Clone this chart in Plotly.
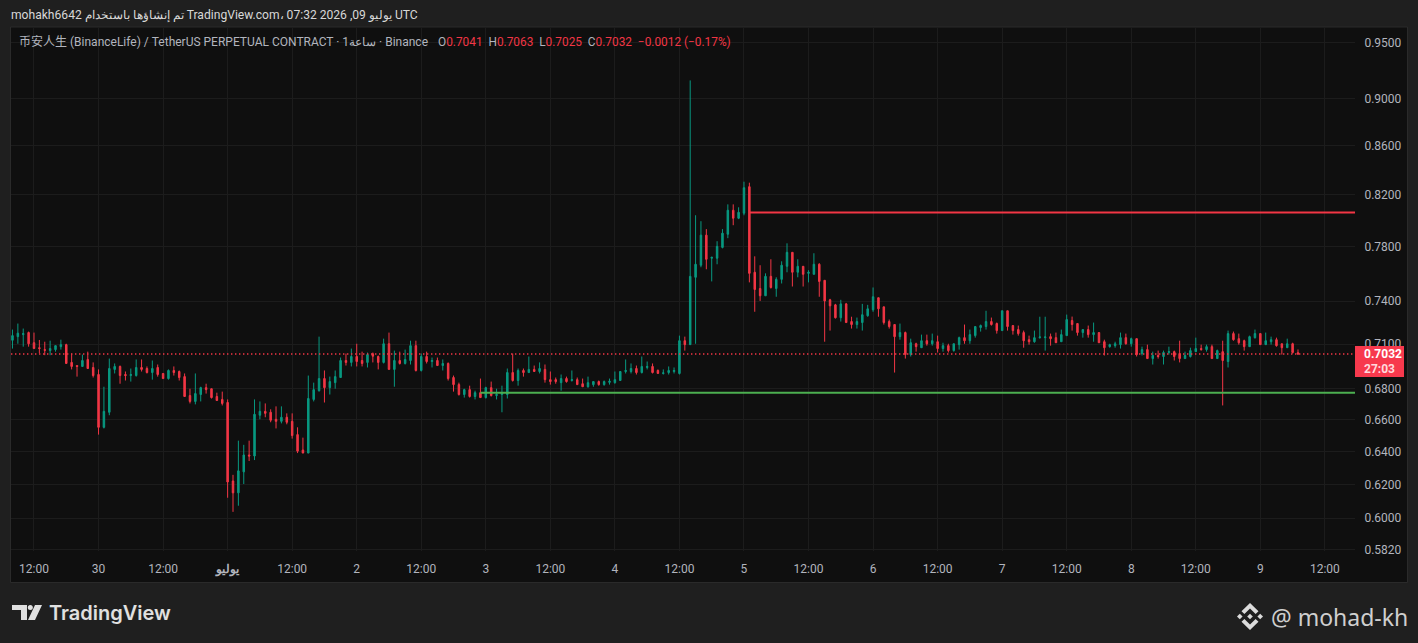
import pandas as pd
import plotly.graph_objects as go

# 1h candles
times = pd.date_range("2026-06-29 08:00", periods=240, freq="h")

opens = [
    .7126, .7151, .7165, .7179, .7109, .7075, .7062, .7055, .7062, .7082,
    .7096, .6975, .6954, .6948, .6995, .6941, .6894, .6551, .6647, .6928,
    .6948, .6894, .6887, .6887, .6941, .6934, .6907, .6941, .6901, .6867,
    .6921, .6914, .6880, .6755, .6717, .6762, .6807, .6800, .6749, .6730,
    .6710, .6220, .6149, .6275, .6378, .6372, .6628, .6653, .6647, .6602,
    .6589, .6615, .6589, .6505, .6409, .6390, .6730, .6787, .6867, .6807,
    .6840, .6874, .6988, .6975, .7015, .6988, .6975, .7033, .7015, .6975,
    .7102, .6928, .6988, .6968, .6988, .7089, .6921, .7015, .6981, .6988,
    .6954, .6968, .6874, .6827, .6762, .6794, .6749, .6774, .6742, .6807,
    .6755, .6762, .6762, .6907, .6854, .6921, .6907, .6928, .6914, .6928,
    .6860, .6860, .6840, .6867, .6854, .6860, .6833, .6813, .6827, .6847,
    .6827, .6842, .6840, .6854, .6914, .6914, .6934, .6907, .6941, .6948,
    .6921, .6901, .6907, .6914, .6901, .7123, .7096, .7573, .7662, .7888,
    .7714, .7714, .7795, .7895, .8080, .8018, .8057, .8266, .7610, .7491,
    .7439, .7580, .7491, .7558, .7654, .7758, .7610, .7654, .7602, .7595,
    .7669, .7551, .7410, .7374, .7283, .7381, .7256, .7235, .7249, .7297,
    .7339, .7425, .7360, .7256, .7235, .7151, .7179, .7028, .7102, .7075,
    .7123, .7102, .7116, .7069, .7089, .7055, .7096, .7144, .7123, .7158,
    .7214, .7221, .7256, .7242, .7193, .7332, .7228, .7200, .7179, .7130,
    .7116, .7144, .7144, .7151, .7144, .7116, .7158, .7263, .7242, .7179,
    .7200, .7165, .7179, .7116, .7082, .7089, .7096, .7144, .7102, .7137,
    .7035, .7062, .7001, .7022, .7015, .7042, .7048, .7035, .7001, .7015,
    .7048, .7069, .7062, .7082, .7001, .7048, .6981, .7172, .7137, .7123,
    .7082, .7144, .7172, .7096, .7116, .7130, .7102, .7075, .7102, .7041,
]
highs = [
    .7200, .7242, .7207, .7186, .7179, .7128, .7116, .7123, .7089, .7130,
    .7102, .7035, .6954, .7028, .7048, .6975, .6928, .6813, .7001, .6968,
    .6954, .6914, .6934, .6995, .6995, .6948, .6988, .6961, .6901, .6928,
    .6948, .6921, .6901, .6800, .6901, .6813, .6833, .6800, .6774, .6781,
    .6730, .6257, .6467, .6441, .6467, .6730, .6717, .6704, .6666, .6685,
    .6685, .6640, .6640, .6551, .6486, .6887, .6840, .7151, .6921, .6880,
    .6921, .7008, .7035, .7069, .7102, .7048, .7042, .7042, .7022, .7137,
    .7179, .7055, .7048, .7062, .7123, .7123, .7035, .7048, .7008, .7008,
    .6995, .6975, .6887, .6840, .6800, .6820, .6787, .6867, .6813, .6847,
    .6800, .6820, .6934, .7035, .6934, .6934, .7015, .6954, .6975, .6961,
    .6914, .6874, .6894, .6880, .6921, .6874, .6867, .6880, .6847, .6854,
    .6854, .6867, .6914, .6914, .6995, .6968, .6954, .7015, .6981, .6968,
    .6928, .6928, .6948, .6941, .7158, .7151, .9160, .8041, .7995, .7934,
    .7721, .7842, .7934, .8126, .8126, .8103, .8306, .8298, .7728, .7662,
    .7602, .7706, .7573, .7691, .7826, .7758, .7706, .7654, .7625, .7751,
    .7677, .7551, .7417, .7381, .7410, .7388, .7290, .7284, .7381, .7374,
    .7499, .7425, .7360, .7270, .7235, .7242, .7186, .7137, .7109, .7165,
    .7165, .7172, .7158, .7109, .7102, .7102, .7151, .7235, .7200, .7221,
    .7235, .7332, .7284, .7249, .7332, .7332, .7228, .7228, .7193, .7158,
    .7193, .7290, .7290, .7172, .7179, .7200, .7305, .7291, .7242, .7200,
    .7228, .7249, .7179, .7130, .7102, .7116, .7179, .7172, .7144, .7137,
    .7082, .7096, .7048, .7055, .7055, .7082, .7055, .7123, .7048, .7075,
    .7144, .7096, .7096, .7096, .7062, .7123, .7193, .7186, .7172, .7130,
    .7158, .7200, .7172, .7179, .7151, .7144, .7102, .7137, .7109, .7063,
]
lows = [
    .7069, .7102, .7082, .7082, .7069, .7037, .7024, .7024, .7048, .7062,
    .6968, .6928, .6880, .6948, .6934, .6874, .6505, .6544, .6628, .6901,
    .6833, .6854, .6847, .6880, .6914, .6901, .6860, .6880, .6867, .6860,
    .6887, .6854, .6749, .6704, .6698, .6717, .6768, .6736, .6723, .6691,
    .6120, .6037, .6073, .6202, .6341, .6347, .6602, .6615, .6583, .6544,
    .6576, .6570, .6480, .6390, .6390, .6390, .6717, .6781, .6710, .6762,
    .6800, .6874, .6954, .6948, .6948, .6948, .6941, .6975, .6928, .6968,
    .6928, .6813, .6961, .6961, .6961, .6914, .6914, .6968, .6941, .6954,
    .6921, .6854, .6781, .6755, .6742, .6742, .6730, .6742, .6736, .6749,
    .6730, .6647, .6736, .6847, .6820, .6880, .6907, .6914, .6901, .6840,
    .6827, .6833, .6787, .6840, .6847, .6827, .6813, .6807, .6813, .6820,
    .6820, .6827, .6833, .6854, .6901, .6901, .6894, .6901, .6928, .6901,
    .6901, .6894, .6894, .6901, .6894, .7055, .7096, .7102, .7647, .7632,
    .7543, .7669, .7788, .7865, .7964, .8011, .8041, .7536, .7325, .7402,
    .7439, .7491, .7432, .7528, .7610, .7506, .7573, .7506, .7536, .7595,
    .7432, .7116, .7193, .7277, .7256, .7249, .7207, .7207, .7193, .7290,
    .7325, .7290, .7235, .7207, .6907, .7130, .7001, .7015, .7048, .7075,
    .7089, .7089, .7042, .7048, .7042, .7048, .7062, .7102, .7102, .7144,
    .7186, .7200, .7228, .7172, .7193, .7193, .7165, .7158, .7075, .7096,
    .7109, .7137, .7055, .7089, .7109, .7116, .7158, .7193, .7158, .7144,
    .7144, .7116, .7109, .7022, .7075, .7075, .7069, .7096, .7082, .7015,
    .7022, .7001, .6961, .7001, .6961, .7028, .6988, .6975, .7001, .7008,
    .7048, .7055, .7048, .7001, .7001, .6691, .6941, .7123, .7096, .7055,
    .7082, .7137, .7096, .7096, .7096, .7082, .7028, .7075, .7035, .7025,
]
closes = [
    .7158, .7175, .7172, .7102, .7069, .7069, .7057, .7069, .7089, .7096,
    .6968, .6948, .6948, .6988, .6934, .6887, .6551, .6653, .6934, .6948,
    .6887, .6887, .6894, .6941, .6928, .6907, .6934, .6894, .6867, .6921,
    .6907, .6874, .6749, .6717, .6768, .6807, .6794, .6742, .6723, .6704,
    .6214, .6149, .6281, .6378, .6372, .6634, .6653, .6640, .6596, .6589,
    .6615, .6583, .6499, .6402, .6390, .6736, .6794, .6867, .6807, .6847,
    .6880, .6988, .6975, .7015, .6981, .6968, .7028, .7017, .6975, .7102,
    .6928, .6988, .6968, .6995, .7089, .6921, .7015, .6981, .6988, .6954,
    .6968, .6867, .6827, .6762, .6794, .6749, .6774, .6742, .6807, .6755,
    .6762, .6774, .6907, .6854, .6921, .6907, .6928, .6914, .6934, .6860,
    .6847, .6847, .6867, .6847, .6860, .6827, .6813, .6840, .6847, .6827,
    .6847, .6849, .6860, .6914, .6921, .6934, .6907, .6948, .6948, .6907,
    .6901, .6905, .6921, .6921, .7123, .7096, .7580, .7669, .7888, .7706,
    .7721, .7803, .7903, .8080, .8018, .8064, .8258, .7602, .7484, .7439,
    .7580, .7499, .7558, .7662, .7758, .7610, .7654, .7595, .7610, .7669,
    .7543, .7402, .7367, .7283, .7381, .7249, .7235, .7256, .7304, .7346,
    .7432, .7346, .7249, .7221, .7151, .7179, .7028, .7109, .7082, .7123,
    .7102, .7123, .7069, .7089, .7055, .7102, .7144, .7123, .7165, .7221,
    .7228, .7256, .7235, .7193, .7332, .7221, .7193, .7172, .7123, .7116,
    .7144, .7149, .7149, .7137, .7109, .7165, .7270, .7235, .7179, .7200,
    .7165, .7179, .7109, .7075, .7096, .7102, .7144, .7102, .7137, .7028,
    .7062, .7001, .7022, .7015, .7042, .7048, .7015, .7001, .7022, .7055,
    .7069, .7062, .7082, .7001, .7055, .6988, .7172, .7130, .7109, .7082,
    .7151, .7172, .7096, .7123, .7130, .7089, .7075, .7102, .7042, .7032,
]

price_ticks = [0.95, 0.90, 0.86, 0.82, 0.78, 0.74, 0.71, 0.68, 0.66, 0.64, 0.62, 0.60, 0.582]
price_labels = ["0.9500", "0.9000", "0.8600", "0.8200", "0.7800", "0.7400", "0.7100",
                "0.6800", "0.6600", "0.6400", "0.6200", "0.6000", "0.5820"]
time_ticks = pd.date_range("2026-06-29 12:00", periods=21, freq="12h")
time_labels = ["12:00", "30", "12:00", "<b>يوليو</b>", "12:00", "2", "12:00", "3", "12:00", "4", "12:00",
               "5", "12:00", "6", "12:00", "7", "12:00", "8", "12:00", "9", "12:00"]

last_price = 0.7032
resistance = 0.8062
support = 0.6774
x_first = "2026-06-29 07:43:30"
x_last = "2026-07-09 17:36:00"

UP = "#089981"
DOWN = "#f23645"
GRID = "#1c1c1c"
PANEL = "#0f0f0f"
OUTER = "#1f1f1f"
AXIS_TEXT = "#b2b5be"

# plot area in page pixels
LEFT, RIGHT, TOP, BOTTOM = 11, 1355, 28, 551
FONT = "Roboto, 'Noto Sans CJK SC', 'Noto Sans', sans-serif"


def px(x):
    return (x - LEFT) / (RIGHT - LEFT)


def py(y):
    return (BOTTOM - y) / (BOTTOM - TOP)


def poly(points):
    return "M" + " L".join(f"{px(a):.5f},{py(b):.5f}" for a, b in points) + " Z"


def label(x, y, text, size=12, color=AXIS_TEXT, anchor="left", font=FONT, weight=None):
    return dict(xref="paper", yref="paper", x=px(x), y=py(y), text=text, showarrow=False,
                xanchor=anchor, yanchor="middle", align="left", borderpad=0,
                font=dict(family=font, size=size, color=color, weight=weight))


fig = go.Figure()

fig.add_trace(go.Scatter(x=[x_first, x_last], y=[last_price, last_price], mode="lines",
                         line=dict(color=DOWN, width=1.4, dash="1.4px,2.6px"), hoverinfo="skip"))
fig.add_trace(go.Scatter(x=[times[137], x_last], y=[resistance, resistance], mode="lines",
                         line=dict(color=DOWN, width=2), hoverinfo="skip"))
fig.add_trace(go.Scatter(x=[times[87], x_last], y=[support, support], mode="lines",
                         line=dict(color="#4caf50", width=2), hoverinfo="skip"))
fig.add_trace(go.Candlestick(
    x=times, open=opens, high=highs, low=lows, close=closes,
    increasing=dict(line=dict(color=UP, width=1), fillcolor=UP),
    decreasing=dict(line=dict(color=DOWN, width=1), fillcolor=DOWN),
    whiskerwidth=0, hoverinfo="skip",
))

shapes = [
    # chart panel
    dict(type="rect", xref="paper", yref="paper", x0=px(10.5), x1=px(1407.5), y0=py(27), y1=py(582.5),
         fillcolor=PANEL, line=dict(color="#2a2a2a", width=1), layer="below"),
    # price tag
    dict(type="rect", xref="paper", yref="paper", x0=px(1355), x1=px(1404), y0=py(346), y1=py(377),
         fillcolor="#f7394d", line=dict(width=0), layer="above"),
    # tradingview logo
    dict(type="path", xref="paper", yref="paper", fillcolor="#e0e0e0", line=dict(width=0),
         path=poly([(12, 605), (27, 605), (27, 620), (21, 620), (21, 610), (12, 610)])),
    dict(type="circle", xref="paper", yref="paper", fillcolor="#e0e0e0", line=dict(width=0),
         x0=px(27.8), x1=px(32.8), y0=py(605), y1=py(610)),
    dict(type="path", xref="paper", yref="paper", fillcolor="#e0e0e0", line=dict(width=0),
         path=poly([(35, 605), (42, 605), (35, 620), (28, 620)])),
]
# binance mark
for cx in (1239.8, 1250, 1260.2):
    shapes.append(dict(type="path", xref="paper", yref="paper", fillcolor="#dcdcdc", line=dict(width=0),
                       path=poly([(cx, 613.7), (cx + 2.8, 616.5), (cx, 619.3), (cx - 2.8, 616.5)])))
shapes.append(dict(type="path", xref="paper", yref="paper", fillcolor="#dcdcdc", line=dict(width=0),
                   path=poly([(1250, 603), (1258.5, 611.3), (1255.6, 614), (1250, 608.6), (1244.4, 614), (1241.5, 611.3)])))
shapes.append(dict(type="path", xref="paper", yref="paper", fillcolor="#dcdcdc", line=dict(width=0),
                   path=poly([(1250, 630), (1258.5, 621.7), (1255.6, 619), (1250, 624.4), (1244.4, 619), (1241.5, 621.7)])))

red = "#f23645"
ohlc = (f"O<span style='color:{red}'>0.7041</span>  H<span style='color:{red}'>0.7063</span>  "
        f"L<span style='color:{red}'>0.7025</span>  C<span style='color:{red}'>0.7032</span>  "
        f"<span style='color:{red}'>−0.0012 (−0.17%)</span>")

annotations = [
    label(10, 15, "mohakh6642 تم إنشاؤها باستخدام TradingView.com، 07:32 2026 ,09 يوليو UTC", size=12.1, color="#d8d8d8"),
    label(17.5, 42, "币安人生 (BinanceLife) / TetherUS PERPETUAL CONTRACT · 1ساعة · Binance", size=12),
    label(437, 42, ohlc, size=11.85),
    label(1362.5, 354, "<b>0.7032</b>", size=12, color="#ffffff"),
    label(1362.5, 369, "<b>27:03</b>", size=12, color="#ffd9dd"),
    label(48, 613, "TradingView", size=20, color="#e0e0e0", font="Inter, sans-serif", weight=600),
    label(1270, 617, "@ mohad-kh", size=23, color="#cfcfcf", font="'Noto Sans', sans-serif"),
]

fig.update_layout(
    width=1418, height=643, autosize=False,
    margin=dict(l=LEFT, r=1418 - RIGHT, t=TOP, b=643 - BOTTOM, pad=0),
    paper_bgcolor=OUTER, plot_bgcolor="rgba(0,0,0,0)",
    showlegend=False, boxgap=0.6, hovermode=False,
    shapes=shapes, annotations=annotations,
    font=dict(family=FONT, size=12, color=AXIS_TEXT),
    xaxis=dict(type="date", range=[x_first, x_last], rangeslider=dict(visible=False),
               tickmode="array", tickvals=time_ticks, ticktext=time_labels, tickangle=0,
               showgrid=True, gridcolor=GRID, gridwidth=1, zeroline=False, showline=False,
               ticks="outside", ticklen=7, tickcolor=PANEL, tickfont=dict(size=12, color=AXIS_TEXT)),
    yaxis=dict(type="log", range=[-0.2356, -0.0161], side="right",
               tickmode="array", tickvals=price_ticks, ticktext=price_labels,
               showgrid=True, gridcolor=GRID, gridwidth=1, zeroline=False, showline=False,
               ticks="outside", ticklen=6, tickcolor=PANEL, tickfont=dict(size=12, color=AXIS_TEXT)),
)

fig.write_html("out.html", config={"displayModeBar": False},
               post_script="document.body.style.margin='0';document.body.style.overflow='hidden';")
